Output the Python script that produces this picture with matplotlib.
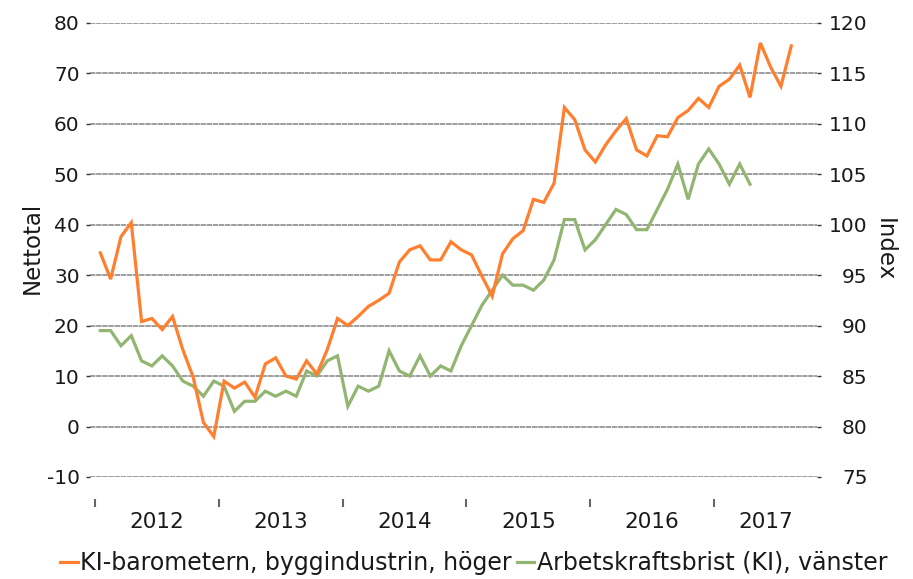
import numpy as np
import matplotlib
matplotlib.use("Agg")
import matplotlib.pyplot as plt
from matplotlib.lines import Line2D

# Månadsdata, jan 2012 = index 0
ki_bygg = [97.2, 94.6, 98.8, 100.2, 90.4, 90.7, 89.6, 90.9, 87.6, 84.9, 80.4, 79.0,
           84.5, 83.8, 84.4, 82.9, 86.2, 86.8, 85.0, 84.7, 86.5, 85.2, 87.6, 90.7,
           90.0, 90.9, 91.9, 92.5, 93.2, 96.3, 97.5, 97.9, 96.5, 96.5, 98.3, 97.5,
           97.0, 94.9, 92.9, 97.1, 98.6, 99.4, 102.5, 102.2, 104.1, 111.6, 110.4, 107.4,
           106.2, 107.9, 109.3, 110.5, 107.4, 106.8, 108.8, 108.7, 110.6, 111.3, 112.5, 111.6,
           113.7, 114.4, 115.8, 112.6, 118.0, 115.6, 113.7, 117.7]

arbetskraftsbrist = [19, 19, 16, 18, 13, 12, 14, 12, 9, 8, 6, 9,
                     8, 3, 5, 5, 7, 6, 7, 6, 11, 10, 13, 14,
                     4, 8, 7, 8, 15, 11, 10, 14, 10, 12, 11, 16,
                     20, 24, 27, 30, 28, 28, 27, 29, 33, 41, 41, 35,
                     37, 40, 43, 42, 39, 39, 43, 47, 52, 45, 52, 55,
                     52, 48, 52, 48]

years = ["2012", "2013", "2014", "2015", "2016", "2017"]
left_ticks = list(range(-10, 81, 10))
right_ticks = list(range(75, 121, 5))

ORANGE = "#FF7F2F"
GREEN = "#92B572"
TXT = "#1a1a1a"

plt.rcParams["font.family"] = ["DejaVu Sans"]
plt.rcParams["axes.unicode_minus"] = False

fig = plt.figure(figsize=(9.13, 5.79), dpi=100)
ax = fig.add_axes([0.0986, 0.1762, 0.7963, 0.7846])
ax2 = ax.twinx()

x_org = np.arange(len(ki_bygg))
x_grn = np.arange(len(arbetskraftsbrist))

ax.plot(x_grn, arbetskraftsbrist, color=GREEN, lw=2.3, solid_joinstyle="miter", zorder=3)
ax2.plot(x_org, ki_bygg, color=ORANGE, lw=2.3, solid_joinstyle="miter", zorder=3)

ax.set_xlim(-1, 69.5)
ax.set_ylim(-10, 80)
ax2.set_ylim(75, 120)
ax.set_yticks(left_ticks)
ax2.set_yticks(right_ticks)

ax.grid(axis="y", color="#959595", lw=1.3, ls=(0, (3, 0.4)))
ax.set_axisbelow(True)

for a in (ax, ax2):
    for s in a.spines.values():
        s.set_visible(False)
ax.tick_params(axis="y", length=3, width=1, color="#333333",
               labelsize=14.5, labelcolor=TXT, pad=4.5)
# höger axel: högerjusterade etiketter som i Excel
ax2.tick_params(axis="y", length=3, width=1, color="#333333",
                labelsize=14.5, labelcolor=TXT, pad=33.5)
for lbl in ax2.get_yticklabels():
    lbl.set_horizontalalignment("right")

# Årsgränser som tickmarkeringar, årtal centrerade mellan dem
bounds = [-0.5 + 12 * i for i in range(len(years))]
centers = [b + 6 for b in bounds[:-1]] + [(bounds[-1] + 69.5) / 2]
ax.spines["bottom"].set_position(("outward", 16))
ax.spines["bottom"].set_visible(True)
ax.spines["bottom"].set_color("none")
ax.set_xticks(bounds)
ax.set_xticklabels([])
ax.set_xticks(centers, minor=True)
ax.set_xticklabels(years, minor=True)
ax.tick_params(axis="x", which="major", length=6, width=1.5, color="#666666", direction="out")
ax.tick_params(axis="x", which="minor", length=0, labelsize=15.5, labelcolor=TXT, pad=9)

fig.text(32 / 913, 1 - 248 / 579, "Nettotal", rotation=90, ha="center", va="center",
         fontsize=16.5, color=TXT)
fig.text(884 / 913, 1 - 250 / 579, "Index", rotation=-90, ha="center", va="center",
         fontsize=16.5, color=TXT)

handles = [
    Line2D([0], [0], color=ORANGE, lw=2.3),
    Line2D([0], [0], color=GREEN, lw=2.3),
]
labels = ["KI-barometern, byggindustrin, höger", "Arbetskraftsbrist (KI), vänster"]
fig.legend(handles, labels, loc="center", bbox_to_anchor=(0.519, 0.028), ncol=2,
           frameon=False, fontsize=17, handlelength=0.75, handletextpad=0.1,
           columnspacing=0.2, labelcolor=TXT, borderpad=0.1, borderaxespad=0)

fig.savefig("out.png", dpi=100)
